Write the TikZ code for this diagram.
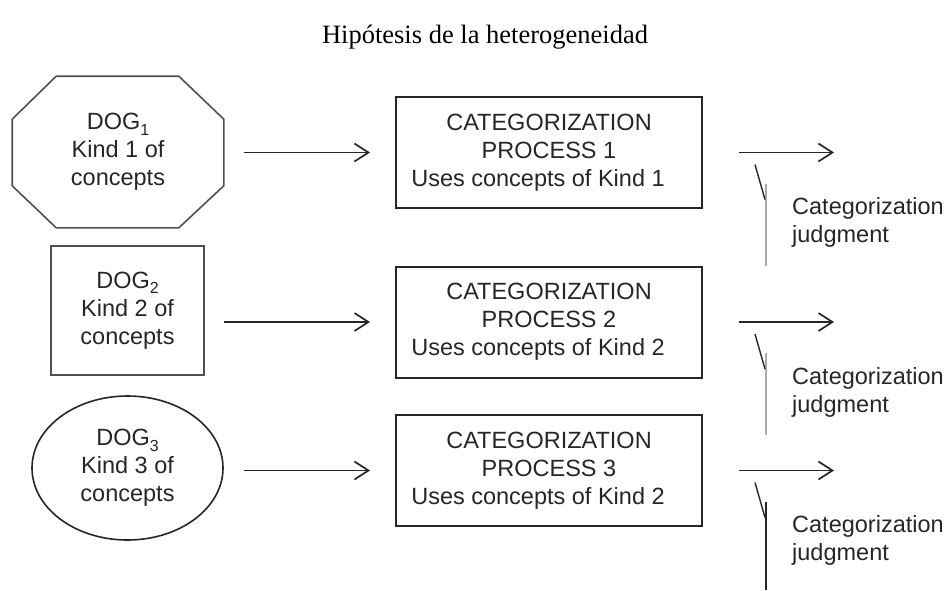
\documentclass[tikz,border=0pt]{standalone}
\usepackage{fontspec}
\setmainfont{Liberation Serif}
\newfontfamily\arialfont{Liberation Sans}
\usetikzlibrary{arrows.meta,shapes.geometric}
% lowered small index after DOG
\newcommand\dogsub[1]{\raisebox{-0.24em}{\fontsize{16}{16}\selectfont #1}}
\definecolor{ink}{HTML}{262626}
\definecolor{shapegray}{HTML}{505050}
\definecolor{lightrule}{HTML}{ABABAB}

\begin{document}
\begin{tikzpicture}[x=1pt,y=-1pt,
  boxtext/.style={font=\arialfont\fontsize{23.5}{28}\selectfont, text=ink, align=center},
  titletext/.style={font=\fontsize{26.5}{30}\selectfont, text=black},
  source/.style={boxtext, inner sep=0pt, line width=1.6pt},
  process/.style={boxtext, draw=ink, line width=2pt, minimum width=306, minimum height=111, inner sep=0pt},
  conn/.style={draw=ink, line width=1.7pt, -{Straight Barb[length=14pt,width=18pt,line width=1.7pt]}},
  tick/.style={draw=ink, line width=1.4pt},
  judg/.style={font=\arialfont\fontsize{23.5}{28}\selectfont, text=ink, align=left, inner sep=0pt},
]
\useasboundingbox (0,0) rectangle (949,590);

% title
\node[titletext] (title) at (485,37) {Hipótesis de la heterogeneidad};

% three kinds of concept
\node[source, minimum width=210, minimum height=150] (dog1) at (118,152)
  {DOG\dogsub{1}\\Kind 1 of\\concepts};
\draw[shapegray, line width=1.6pt]
  ([shift={(44,0)}]dog1.north west) -- ([shift={(-45,0)}]dog1.north east)
  -- ([shift={(0,43)}]dog1.north east) -- ([shift={(0,-42)}]dog1.south east)
  -- ([shift={(-45,0)}]dog1.south east) -- ([shift={(44,0)}]dog1.south west)
  -- ([shift={(0,-42)}]dog1.south west) -- ([shift={(0,43)}]dog1.north west) -- cycle;

\node[source, draw=shapegray, minimum width=153, minimum height=129] (dog2) at (127.5,310.5)
  {DOG\dogsub{2}\\Kind 2 of\\concepts};

\node[source, ellipse, draw=ink, minimum width=191, minimum height=144] (dog3) at (127.5,468)
  {DOG\dogsub{3}\\Kind 3 of\\concepts};

% categorization processes
\node[process] (p1) at (549,152.5)
  {CATEGORIZATION\\PROCESS 1\\Uses concepts of Kind 1\hspace*{22pt}};
\node[process] (p2) at (549,322)
  {CATEGORIZATION\\PROCESS 2\\Uses concepts of Kind 2\hspace*{22pt}};
\node[process] (p3) at (549,470.5)
  {CATEGORIZATION\\PROCESS 3\\Uses concepts of Kind 2\hspace*{22pt}};

% inputs
\draw[conn, shorten <=20pt, shorten >=25pt] (dog1.east |- p1.west) -- (p1.west);
\draw[conn, shorten <=19pt, shorten >=25pt] (dog2.east |- p2.west) -- (p2.west);
\draw[conn, shorten <=20pt, shorten >=25pt] (dog3.east |- p3.west) -- (p3.west);

% outputs and judgments
\foreach \p/\len/\rule/\rw in {p1/113/lightrule/2.8pt, p2/113/lightrule/2.8pt, p3/119.5/ink/2pt}{
  \coordinate (\p-out) at ([shift={(131,0)}]\p.east);
  \coordinate (\p-ta) at ([shift={(52,12)}]\p.east);
  \coordinate (\p-tb) at ([shift={(62,47)}]\p.east);
  \coordinate (\p-la) at ([shift={(63,31)}]\p.east);
  \coordinate (\p-lb) at ([shift={(63,\len)}]\p.east);
  \draw[conn, shorten <=36pt] (\p.east) -- (\p-out);
  \draw[\rule, line width=\rw] (\p-la) -- (\p-lb);
  \draw[tick] (\p-ta) -- (\p-tb);
  \node[judg, anchor=west] (\p-judg) at ([shift={(89,70)}]\p.east) {Categorization\\judgment};
}
\end{tikzpicture}
\end{document}
